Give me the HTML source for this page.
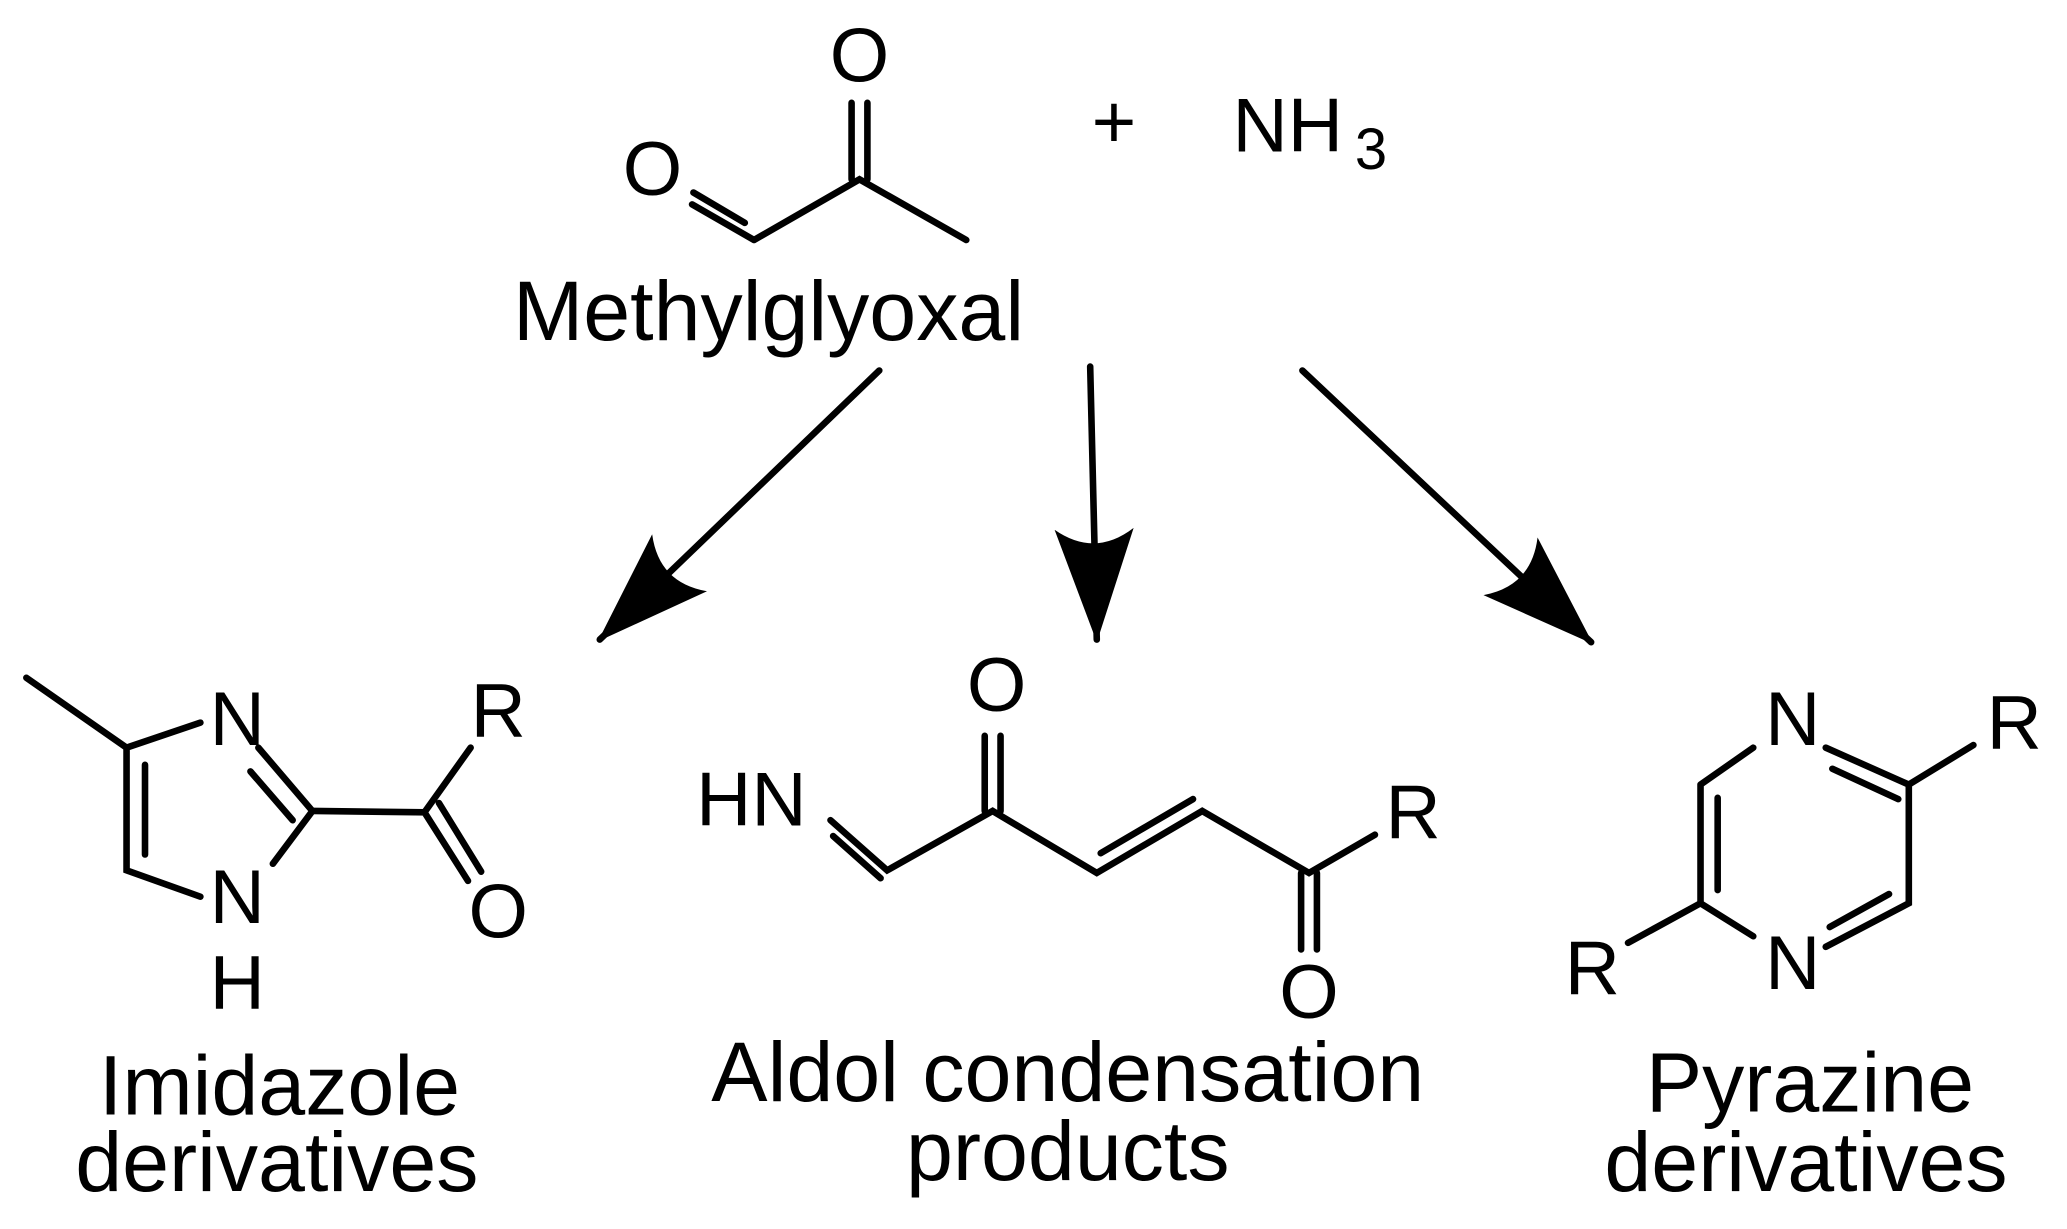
<!DOCTYPE html>
<html><head><style>html,body{margin:0;padding:0;background:#fff}svg{display:block}</style></head><body>
<svg width="2067" height="1229" viewBox="0 0 1568 932" preserveAspectRatio="none" xmlns="http://www.w3.org/2000/svg">
<defs><marker id="a" viewBox="0 0 86 60" refX="84" refY="30" markerWidth="86" markerHeight="60" markerUnits="userSpaceOnUse" orient="auto"><path d="M0,0 L86,30 L0,60 Q22,30 0,0Z" fill="#000"/></marker></defs>
<g stroke="#000" stroke-width="5" fill="none" stroke-linecap="round">
<path d="M572,182 L652,136 L733,182 M572,182 L525,155"/>
<path d="M567,171 L528,148" transform="translate(-2,-2)"/>
<path d="M646,136 V78 M658,136 V78"/>
<path d="M667,281 L455,485" marker-end="url(#a)"/>
<path d="M827,278 L832,485" marker-end="url(#a)"/>
<path d="M988,281 L1207,487" marker-end="url(#a)"/>
<path d="M20,514 L96,567 L152,548 M96,567 V660 L152,680 M110,580 V648"/>
<path d="M196,567 L237,615 L207,655 M190,585 L222,622"/>
<path d="M237,615 L322,616 L357,567 M322,616 L355,668 M333,609 L365,661"/>
<path d="M630,622 L673,660 L753,615 L832,662 L912,615 L993,662 L1043,633"/>
<path d="M632,634 L668,666"/>
<path d="M747,615 V558 M759,615 V558"/>
<path d="M835,647 L905,606"/>
<path d="M987,662 V720 M999,662 V720"/>
<path d="M1290,595 L1330,567 M1385,567 L1448,595 L1448,685 L1385,718 M1330,710 L1290,685 L1290,595"/>
<path d="M1390,583 L1440,606 M1433,678 L1388,703 M1303,605 V675"/>
<path d="M1448,595 L1497,565 M1290,685 L1235,715"/>
</g>
<g font-family="Liberation Sans, sans-serif" font-size="58" fill="#000" text-anchor="middle">
<text x="652" y="62">O</text>
<text x="495" y="148">O</text>
<text x="845" y="112">+</text>
<text x="935" y="115" text-anchor="start">NH</text><text x="1040" y="128" font-size="44">3</text>
<text x="583" y="258" font-size="64">Methylglyoxal</text>
<text x="180" y="565">N</text>
<text x="180" y="700">N</text>
<text x="180" y="765">H</text>
<text x="378" y="559">R</text>
<text x="378" y="711">O</text>
<text x="570" y="626">HN</text>
<text x="756" y="539">O</text>
<text x="1072" y="636">R</text>
<text x="993" y="772">O</text>
<text x="1360" y="565">N</text>
<text x="1360" y="750">N</text>
<text x="1528" y="568">R</text>
<text x="1208" y="754">R</text>
<g font-size="64">
<text x="212" y="845">Imidazole</text>
<text x="210" y="903">derivatives</text>
<text x="810" y="835">Aldol condensation</text>
<text x="810" y="895">products</text>
<text x="1373" y="843">Pyrazine</text>
<text x="1370" y="903">derivatives</text>
</g></g>
</svg>
</body></html>
